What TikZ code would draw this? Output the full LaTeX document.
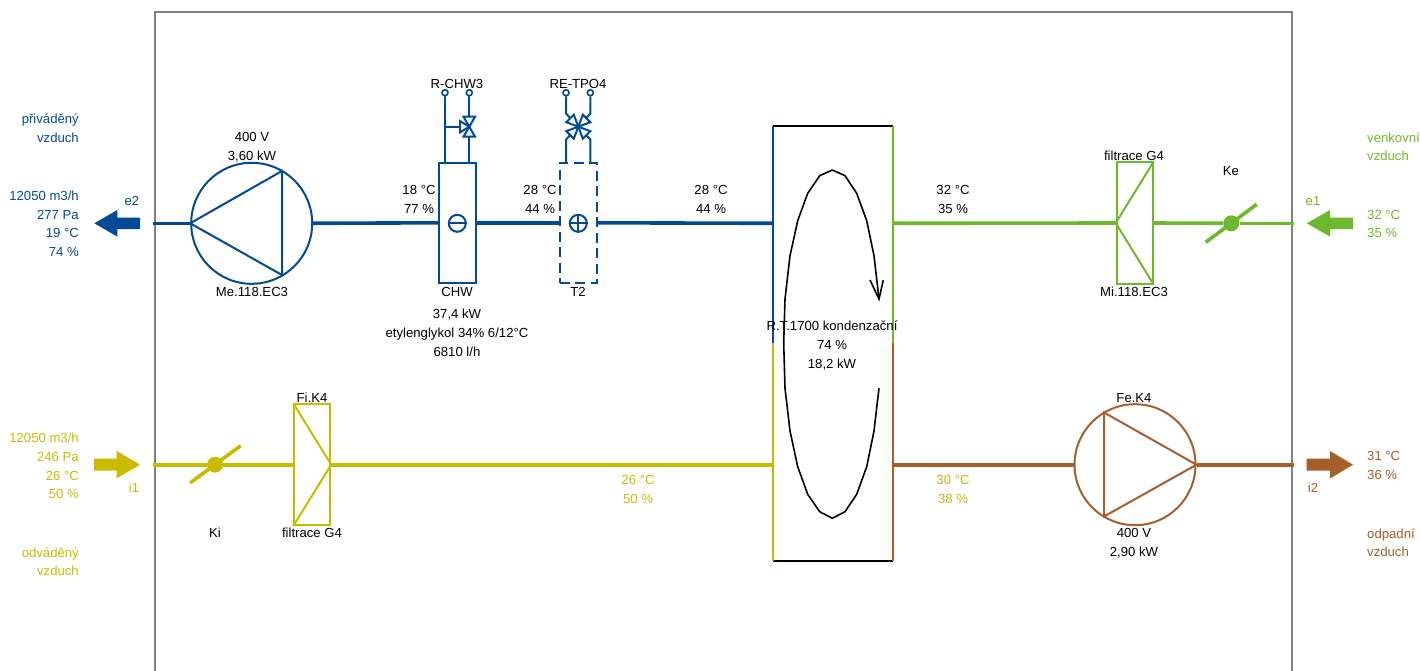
\documentclass[tikz,border=0pt]{standalone}
\usepackage{fontspec}
\setmainfont{Liberation Sans}
\usepackage{tikz}
\definecolor{supplyblue}{HTML}{004B93}
\definecolor{outgreen}{HTML}{6CB92D}
\definecolor{roomyellow}{HTML}{C9BB00}
\definecolor{wastebrown}{HTML}{A65F2A}
\tikzset{
	lbl/.style={inner sep=0pt,text height=9.4pt,text depth=0pt,yshift=-0.6pt,font=\fontsize{13.15}{13.15}\selectfont},
	duct/.style={line width=3.6pt},
	thin part/.style={line width=2pt},
	port/.style={circle,draw=supplyblue,line width=1.6pt,fill=white,inner sep=0pt,minimum size=6pt},
	damper/.style={circle,fill,inner sep=0pt,minimum size=16pt},
	bigfan/.style={circle,draw,line width=2pt,inner sep=0pt,minimum size=121pt},
	filterbox/.style={rectangle,draw,line width=2pt,inner sep=0pt,minimum width=36pt,minimum height=121pt},
	coilbox/.style={rectangle,draw=supplyblue,line width=2pt,inner sep=0pt,minimum width=37pt,minimum height=120.5pt},
	mark sym/.style={circle,draw=supplyblue,line width=2pt,inner sep=0pt,minimum size=17pt}
}
\begin{document}
\begin{tikzpicture}[x=1pt,y=-1pt]
	\useasboundingbox (0,0) rectangle (1420,671);
	% casing
	\coordinate (bl) at (155,671);
	\coordinate (tl) at (155,12);
	\coordinate (tr) at (1292,12);
	\coordinate (br) at (1292,671);
	\draw[gray,line width=1.6pt] (bl)--(tl)--(tr)--(br);

	% wheel box
	\coordinate (wa) at (772.5,126);
	\coordinate (wb) at (892.5,126);
	\coordinate (wc) at (772.5,343);
	\coordinate (wd) at (892.5,343);
	\coordinate (we) at (772.5,561);
	\coordinate (wf) at (892.5,561);
	\draw[black,line width=2pt] (wa)--(wb);
	\draw[black,line width=2pt] (we)--(wf);
	\draw[supplyblue,line width=2pt] (wa)--(wc);
	\draw[roomyellow,line width=2pt] (wc)--(we);
	\draw[outgreen,line width=2pt] (wb)--(wd);
	\draw[wastebrown,line width=2pt] (wd)--(wf);
	\coordinate (wblue) at (772.5,223.3);
	\coordinate (wgreen) at (892.5,223.3);
	\coordinate (wyellow) at (772.5,464.7);
	\coordinate (wbrown) at (892.5,464.7);

	% supply air
	\coordinate (e2in) at (153,223.3);
	\node[bigfan,draw=supplyblue] (fanMe) at (251.7,223.3) {};
	\node[coilbox] (CHW) at (457.3,222.8) {};
	\node[coilbox,dash pattern=on 10pt off 5.5pt] (T2) at (578.3,222.8) {};
	\node[mark sym] (minus) at (457.3,223.3) {};
	\node[mark sym] (plus) at (578.3,223.3) {};
	\draw[supplyblue,line width=2pt] (minus.west)--(minus.east);
	\draw[supplyblue,line width=2pt] (plus.west)--(plus.east);
	\draw[supplyblue,line width=2pt] (plus.north)--(plus.south);
	\draw[supplyblue,duct] (e2in)--(fanMe.west);
	\draw[supplyblue,duct] (fanMe.east)--(CHW.west);
	\draw[supplyblue,duct] (CHW.east)--(T2.west);
	\draw[supplyblue,duct] (T2.east)--(wblue);
	\coordinate (fmA) at (282,171);
	\coordinate (fmB) at (282,275);
	\draw[supplyblue,thin part] (fanMe.west)--(fmA)--(fmB)--cycle;

	% three way valve
	\node[port] (chwA) at (445,92.7) {};
	\node[port] (chwB) at (469.3,92.7) {};
	\coordinate (chwV) at (469.3,126.7);
	\coordinate (chwAb) at (445,162.5);
	\coordinate (chwBb) at (469.3,162.5);
	\coordinate (chwT) at (445,126.7);
	\draw[supplyblue,thin part] (chwA)--(chwAb);
	\draw[supplyblue,thin part] (chwB)--(chwBb);
	\draw[supplyblue,thin part] (chwT)--(460,126.7);
	\draw[supplyblue,thin part,fill=white] (chwV)--(463.5,116.7)--(475,116.7)--cycle;
	\draw[supplyblue,thin part,fill=white] (chwV)--(463.5,136.7)--(475,136.7)--cycle;
	\draw[supplyblue,thin part,fill=white] (chwV)--(460,121)--(460,132.4)--cycle;

	% four way valve
	\node[port] (tpoA) at (566,92.7) {};
	\node[port] (tpoB) at (590.3,92.7) {};
	\coordinate (tpoV) at (578.3,126.7);
	\coordinate (tpoAb) at (566,162.5);
	\coordinate (tpoBb) at (590.3,162.5);
	\draw[supplyblue,thin part] (tpoA)--(566,113.5)--(tpoV);
	\draw[supplyblue,thin part] (tpoB)--(590.3,113.5)--(tpoV);
	\draw[supplyblue,thin part] (tpoAb)--(566,139.5)--(tpoV);
	\draw[supplyblue,thin part] (tpoBb)--(590.3,139.5)--(tpoV);
	\foreach \sx/\sy in {-1/-1,1/-1,-1/1,1/1}
	\draw[supplyblue,thin part,fill=white] (tpoV)--++(12*\sx,4.5*\sy)--++(-7.5*\sx,7.5*\sy)--cycle;

	% outside air
	\coordinate (e1in) at (1294,223.3);
	\node[filterbox,draw=outgreen] (fltMi) at (1134.7,223) {};
	\node[damper,fill=outgreen] (Ke) at (1231.3,223.3) {};
	\coordinate (keA) at (1205.7,242.3);
	\coordinate (keB) at (1256.7,204.3);
	\draw[outgreen,duct] (wgreen)--(fltMi.west);
	\draw[outgreen,duct] (fltMi.east)--(Ke);
	\draw[outgreen,duct] (Ke)--(e1in);
	\draw[outgreen,duct] (keA)--(keB);
	\draw[outgreen,line width=2pt] (fltMi.north east)--(fltMi.west)--(fltMi.south east);

	% room air
	\coordinate (i1in) at (153,464.7);
	\node[damper,fill=roomyellow] (Ki) at (215,464.7) {};
	\node[filterbox,draw=roomyellow] (fltFi) at (312.2,464.7) {};
	\coordinate (kiA) at (190,483);
	\coordinate (kiB) at (240.7,445.7);
	\draw[roomyellow,duct] (i1in)--(Ki);
	\draw[roomyellow,duct] (Ki)--(fltFi.west);
	\draw[roomyellow,duct] (fltFi.east)--(wyellow);
	\draw[roomyellow,duct] (kiA)--(kiB);
	\draw[roomyellow,line width=2pt] (fltFi.north west)--(fltFi.east)--(fltFi.south west);

	% exhaust air
	\coordinate (i2out) at (1294,464.7);
	\node[bigfan,draw=wastebrown] (fanFe) at (1135,464.7) {};
	\draw[wastebrown,duct] (wbrown)--(fanFe.west);
	\draw[wastebrown,duct] (fanFe.east)--(i2out);
	\coordinate (feA) at (1104,412.5);
	\coordinate (feB) at (1104,516.5);
	\draw[wastebrown,thin part] (fanFe.east)--(feA)--(feB)--cycle;

	% air arrows
	\fill[supplyblue] (94.3,223.3)--(117.3,210)--(117.3,217.5)--(140,217.5)--(140,229)--(117.3,229)--(117.3,236.6)--cycle;
	\fill[outgreen] (1306.7,223.3)--(1330,210)--(1330,217.5)--(1353,217.5)--(1353,229)--(1330,229)--(1330,236.6)--cycle;
	\fill[roomyellow] (140,464.7)--(116.7,451)--(116.7,458.5)--(94,458.5)--(94,470.5)--(116.7,470.5)--(116.7,478.5)--cycle;
	\fill[wastebrown] (1353,464.7)--(1330,451)--(1330,458.5)--(1306.7,458.5)--(1306.7,470.5)--(1330,470.5)--(1330,478.5)--cycle;

	% wheel rotation
	\draw[black,line width=1.6pt,line join=round] (879,299)--(874,255.7)--(866.7,220.7)--(856.7,193.3)--(845,175.7)--(832.3,170)--(819.7,175.7)--(807.7,193.3)--(797.7,220.7)--(790,255.7)--(785,299)--(783.7,343)--(785,388.3)--(790,431)--(797.7,466.7)--(807.7,494.3)--(819.7,511.7)--(832.3,518.3)--(845,511.7)--(856.7,494.3)--(866.7,466.7)--(874,431)--(879,388.3);
	\draw[black,line width=1.6pt] (870,280)--(879,299)--(883.3,280);

	% black labels
	\foreach \x/\y/\ytext [count=\i] in {252/136/400 V,252/155/{3,60 kW},252/291/Me.118.EC3,419/189/18 °C,419/208/77 \%,457/291/CHW,457/313/{37,4 kW},457/332/etylenglykol 34\% 6{/}12°C,457/351/6810 l{/}h,578/291/T2,540/189/28 °C,540/208/44 \%,711/189/28 °C,711/208/44 \%,457/83/R-CHW3,578/83/RE-TPO4,832/325/R.T.1700 kondenzační,832/344/74 \%,832/363/{18,2 kW},953/189/32 °C,953/208/35 \%,1134/155/filtrace G4,1134/291/Mi.118.EC3,1231/170/Ke,215/532/Ki,312/397/Fi.K4,312/532/filtrace G4,1134/397/Fe.K4,1134/532/400 V,1134/551/{2,90 kW}}
	\node[lbl] (lab\i) at (\x,\y) {\ytext};

	% side labels
	\foreach \y/\ytext [count=\i] in {118/přiváděný,137/vzduch,195/12050 m3{/}h,214/277 Pa,232/19 °C,251/74 \%}
	\node[lbl,anchor=east,text=supplyblue] (sup\i) at (79,\y) {\ytext};
	\foreach \y/\ytext [count=\i] in {437/12050 m3{/}h,456/246 Pa,475/26 °C,493/50 \%,552/odváděný,570/vzduch}
	\node[lbl,anchor=east,text=roomyellow] (ret\i) at (79,\y) {\ytext};
	\foreach \y/\ytext [count=\i] in {137/venkovní,155/vzduch,214/32 °C,232/35 \%}
	\node[lbl,anchor=west,text=outgreen] (oda\i) at (1367,\y) {\ytext};
	\foreach \y/\ytext [count=\i] in {455/31 °C,474/36 \%,533/odpadní,551/vzduch}
	\node[lbl,anchor=west,text=wastebrown] (eta\i) at (1367,\y) {\ytext};

	\node[lbl,text=supplyblue] (e2) at (132,200) {e2};
	\node[lbl,text=outgreen] (e1) at (1313,200) {e1};
	\node[lbl,text=roomyellow] (i1) at (134,487) {i1};
	\node[lbl,text=wastebrown] (i2) at (1313,487) {i2};
	\node[lbl,text=roomyellow] (t26) at (638,479) {26 °C};
	\node[lbl,text=roomyellow] (h50) at (638,498) {50 \%};
	\node[lbl,text=roomyellow] (t30) at (953,479) {30 °C};
	\node[lbl,text=roomyellow] (h38) at (953,498) {38 \%};
\end{tikzpicture}
\end{document}
